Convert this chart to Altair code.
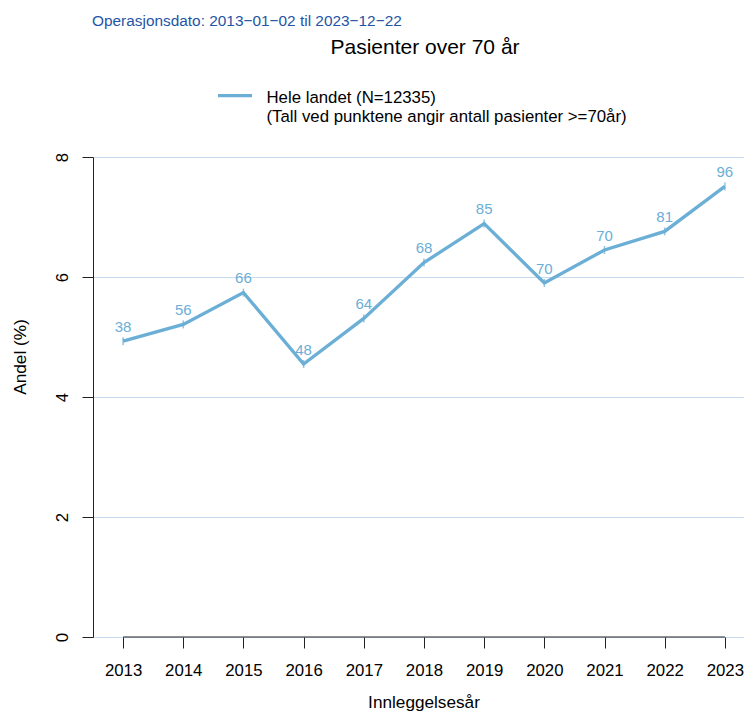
import altair as alt
import pandas as pd

# ---- data ----
years = [2013, 2014, 2015, 2016, 2017, 2018, 2019, 2020, 2021, 2022, 2023]
andel = [4.93, 5.21, 5.74, 4.55, 5.31, 6.24, 6.89, 5.90, 6.45, 6.76, 7.51]
antall = [38, 56, 66, 48, 64, 68, 85, 70, 70, 81, 96]
y_ticks = [0, 2, 4, 6, 8]

subtitle = "Operasjonsdato: 2013\u221201\u221202 til 2023\u221212\u221222"
title = "Pasienter over 70 år"
legend_1 = "Hele landet (N=12335)"
legend_2 = "(Tall ved punktene angir antall pasienter >=70år)"
x_title = "Innleggelsesår"
y_title = "Andel (%)"

FONT = "Liberation Sans"
LINE = "#6baed6"
AXC = "#222222"

df = pd.DataFrame({"year": years, "andel": andel, "n": antall})
axis_df = pd.DataFrame({"year": [years[0]], "year_end": [years[-1]], "andel": [0]})

# 60.18 px per year, 2013 sits 30 px right of the y axis
x_scale = alt.Scale(domain=[2012.5, 2023.318], nice=False, zero=False)
y_scale = alt.Scale(domain=[0, 8], nice=False, zero=True)

x_axis = alt.Axis(values=years, format="d", title=None, grid=False, domain=False,
                  ticks=True, tickSize=11, tickColor=AXC, tickWidth=1,
                  labelFontSize=16.8, labelFont=FONT, labelColor="#000000",
                  labelBaseline="alphabetic", labelPadding=27.7,
                  labelFlush=False, labelOverlap=False)
y_axis = alt.Axis(values=y_ticks, title=None, grid=True, gridColor="#c6dbef", gridWidth=1,
                  domain=True, domainColor=AXC, domainWidth=1,
                  ticks=True, tickSize=11, tickColor=AXC, tickWidth=1,
                  labelAngle=270, labelAlign="center", labelBaseline="alphabetic",
                  labelPadding=14.4, labelFontSize=16.8, labelFont=FONT,
                  labelColor="#000000", labelFlush=False, labelOverlap=False)

X = alt.X("year:Q", scale=x_scale, axis=x_axis)
Y = alt.Y("andel:Q", scale=y_scale, axis=y_axis)

base = alt.Chart(df)

axis_line = alt.Chart(axis_df).mark_rule(color=AXC, strokeWidth=1).encode(
    x=X, x2="year_end:Q", y=Y)

line = base.mark_line(color=LINE, strokeWidth=3.3).encode(x=X, y=Y)
marks = base.mark_tick(orient="vertical", color=LINE, size=8, thickness=1.6).encode(x=X, y=Y)
labels = base.mark_text(color=LINE, fontSize=15, font=FONT, baseline="alphabetic",
                        align="center", dy=-9.5).encode(x=X, y=Y, text="n:Q")

one = alt.Data(values=[{}])


def txt(s, x, y, size, color="#000000", align="left", angle=0):
    kw = dict(fontSize=size, font=FONT, color=color, align=align, baseline="alphabetic")
    if angle:
        kw["angle"] = angle
    return alt.Chart(one).mark_text(**kw).encode(
        x=alt.value(x), y=alt.value(y), text=alt.value(s))


t_sub = txt(subtitle, -1, -131, 15.4, color="#1e55a5")
t_title = txt(title, 332, -102.7, 21, align="center")
t_leg1 = txt(legend_1, 173.5, -54.3, 16.8)
t_leg2 = txt(legend_2, 173.5, -35, 16.8)
t_xt = txt(x_title, 331, 550.5, 17.2, align="center")
t_yt = txt(y_title, -67.5, 200, 17.2, align="center", angle=270)

leg_line = alt.Chart(one).mark_rule(color=LINE, strokeWidth=3.3).encode(
    x=alt.value(125), x2=alt.value(159), y=alt.value(-61.3))

chart = alt.layer(
    axis_line, line, marks, labels,
    t_sub, t_title, t_leg1, t_leg2, t_xt, t_yt, leg_line
).properties(
    width=651, height=480,
    autosize=alt.AutoSizeParams(type="none"),
    padding={"left": 85, "top": 149, "right": 0, "bottom": 76},
    background="white",
).configure_view(stroke=None)

chart.save("out.html", embed_options={"renderer": "svg", "actions": False})
